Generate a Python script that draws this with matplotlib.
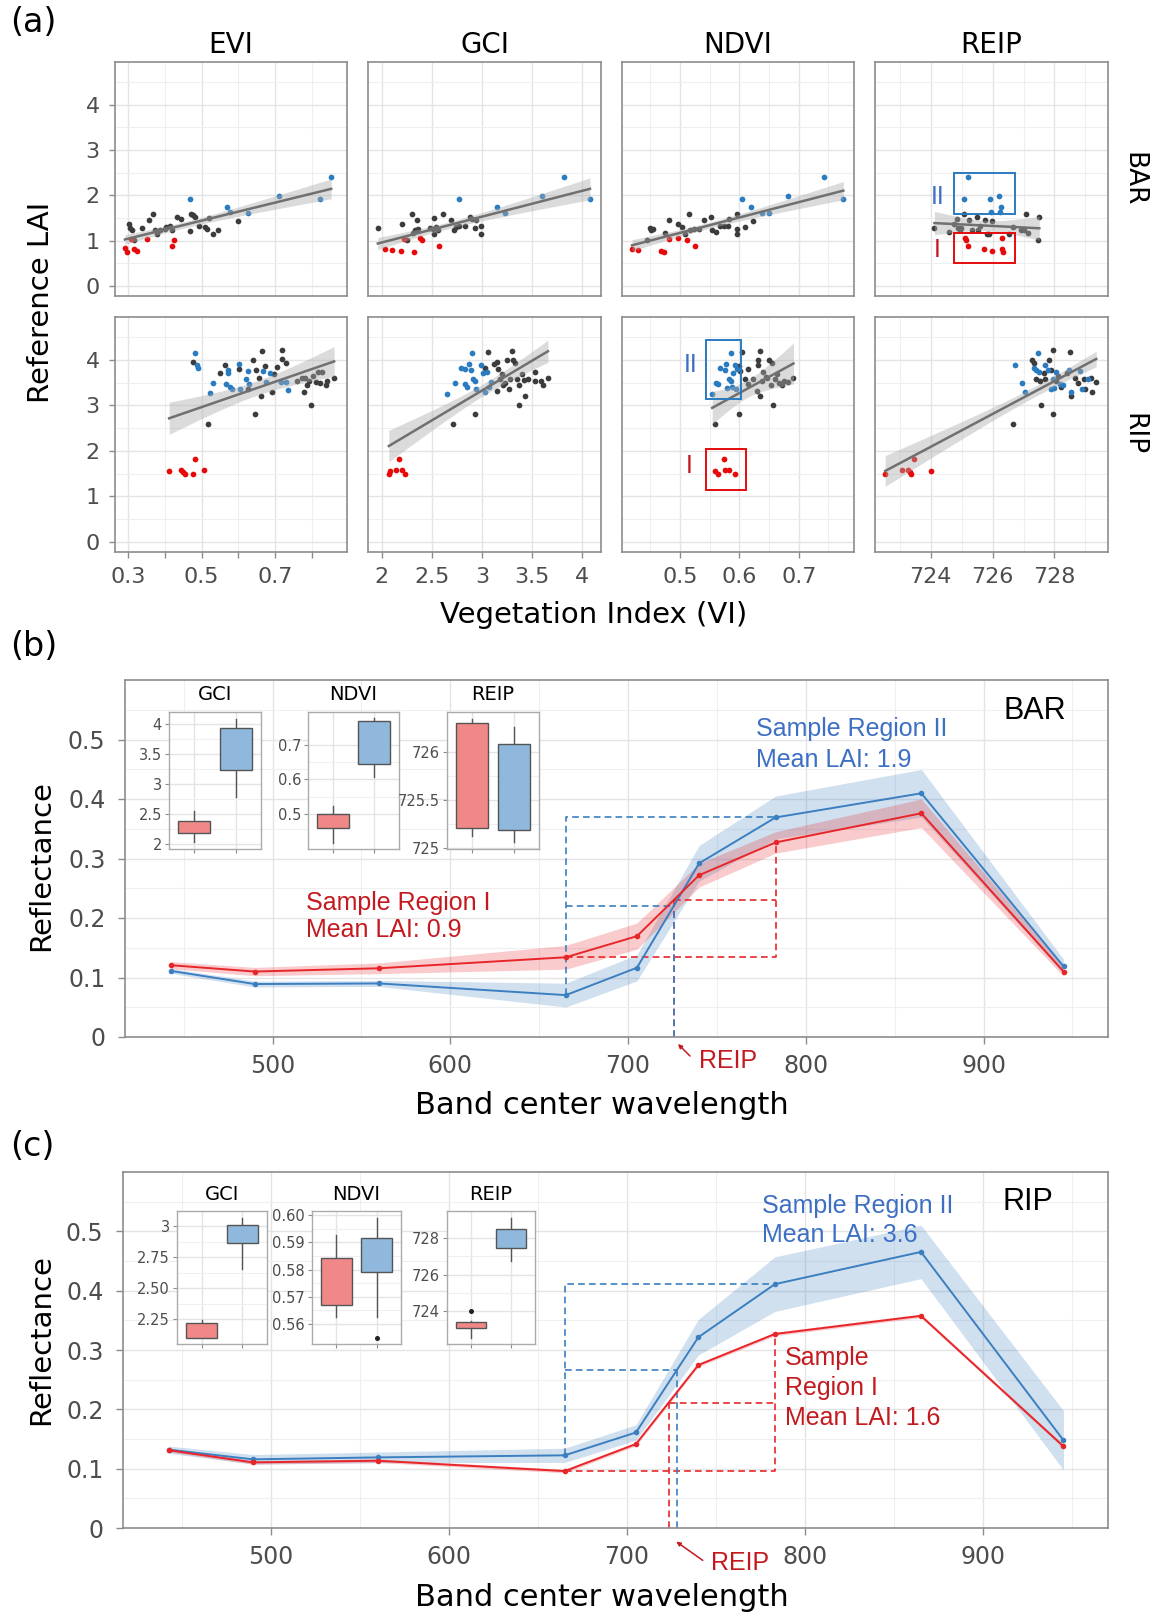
import numpy as np
import matplotlib
matplotlib.use("Agg")
import matplotlib.pyplot as plt
from matplotlib.patches import Rectangle

plt.rcParams['font.family'] = ['DejaVu Sans']

# ======================= DATA : panel (a) =======================
INDICES = ["EVI", "GCI", "NDVI", "REIP"]
SITES = ["BAR", "RIP"]

BAR_EVI_GRAY = [(0.304, 1.36), (0.306, 1.27), (0.310, 1.24), (0.317, 1.01), (0.339, 1.27), (0.357, 1.45),
                (0.369, 1.59), (0.373, 1.23), (0.378, 1.15), (0.387, 1.23), (0.400, 1.26), (0.404, 1.30),
                (0.415, 1.32), (0.420, 1.24), (0.433, 1.53), (0.444, 1.47), (0.468, 1.21), (0.471, 1.59),
                (0.476, 1.56), (0.483, 1.53), (0.492, 1.33), (0.510, 1.31), (0.515, 1.26), (0.520, 1.49),
                (0.532, 1.15), (0.544, 1.24), (0.598, 1.43)]
BAR_EVI_RED = [(0.292, 0.84), (0.297, 0.75), (0.309, 1.04), (0.316, 0.82), (0.325, 0.77), (0.352, 1.04),
               (0.419, 0.88), (0.424, 1.01)]
BAR_EVI_BLUE = [(0.469, 1.92), (0.569, 1.75), (0.578, 1.64), (0.626, 1.62), (0.710, 1.99), (0.822, 1.91),
                (0.852, 2.41)]

BAR_GCI_GRAY = [(1.96, 1.29), (2.20, 1.36), (2.25, 1.01), (2.30, 1.59), (2.31, 1.18), (2.33, 1.23),
                (2.35, 1.45), (2.36, 1.26), (2.48, 1.27), (2.51, 1.26), (2.52, 1.51), (2.52, 1.15),
                (2.54, 1.30), (2.56, 1.23), (2.61, 1.58), (2.69, 1.45), (2.72, 1.23), (2.74, 1.30),
                (2.77, 1.33), (2.83, 1.33), (2.88, 1.52), (2.90, 1.48), (2.93, 1.27), (2.94, 1.45),
                (2.99, 1.32), (2.99, 1.15)]
BAR_GCI_RED = [(2.03, 0.82), (2.10, 0.80), (2.19, 0.77), (2.22, 1.04), (2.32, 0.75), (2.38, 1.05),
               (2.40, 1.01), (2.57, 0.88)]
BAR_GCI_BLUE = [(2.77, 1.92), (3.15, 1.75), (3.23, 1.62), (3.60, 1.99), (3.82, 2.41), (4.08, 1.91)]

BAR_NDVI_GRAY = [(0.444, 1.01), (0.449, 1.29), (0.451, 1.23), (0.454, 1.26), (0.474, 1.18), (0.482, 1.45),
                 (0.496, 1.36), (0.503, 1.30), (0.509, 1.15), (0.515, 1.59), (0.517, 1.23), (0.524, 1.26),
                 (0.531, 1.26), (0.541, 1.46), (0.552, 1.52), (0.554, 1.23), (0.560, 1.20), (0.567, 1.32),
                 (0.574, 1.32), (0.580, 1.32), (0.583, 1.48), (0.595, 1.58), (0.595, 1.26), (0.595, 1.15),
                 (0.610, 1.30), (0.623, 1.43)]
BAR_NDVI_RED = [(0.419, 0.82), (0.429, 0.80), (0.467, 0.77), (0.472, 0.75), (0.482, 1.04), (0.496, 1.05),
                (0.511, 1.01), (0.525, 0.88)]
BAR_NDVI_BLUE = [(0.604, 1.92), (0.620, 1.75), (0.638, 1.62), (0.649, 1.62), (0.682, 1.99), (0.743, 2.41),
                 (0.775, 1.91)]

BAR_REIP_GRAY = [(724.12, 1.29), (724.59, 1.20), (724.76, 1.36), (724.84, 1.47), (724.88, 1.27),
                 (724.94, 1.23), (724.98, 1.28), (725.09, 1.58), (725.24, 1.45), (725.35, 1.24),
                 (725.49, 1.52), (725.53, 1.24), (725.59, 1.33), (725.76, 1.45), (725.82, 1.15),
                 (725.88, 1.15), (725.98, 1.43), (726.53, 1.15), (726.65, 1.30), (726.92, 1.24),
                 (727.00, 1.23), (727.09, 1.59), (727.15, 1.18), (727.46, 1.01), (727.51, 1.53)]
BAR_REIP_RED = [(725.11, 1.05), (725.14, 1.01), (725.22, 0.88), (725.71, 0.81), (725.98, 0.77),
                (726.29, 0.82), (726.35, 0.75), (726.32, 1.05)]
BAR_REIP_BLUE = [(725.20, 2.41), (725.08, 1.91), (725.92, 1.91), (726.21, 1.98), (726.26, 1.75),
                 (725.94, 1.64), (726.24, 1.64)]

RIP_EVI_GRAY = [(0.476, 3.96), (0.517, 2.59), (0.551, 3.71), (0.564, 3.88), (0.601, 3.79), (0.626, 3.35),
                (0.641, 3.99), (0.646, 2.80), (0.648, 3.77), (0.655, 3.59), (0.661, 3.20), (0.663, 4.19),
                (0.672, 3.86), (0.690, 3.30), (0.698, 3.68), (0.706, 3.85), (0.718, 4.21), (0.718, 4.01),
                (0.728, 3.93), (0.758, 3.54), (0.772, 3.60), (0.779, 3.29), (0.782, 3.61), (0.787, 3.44),
                (0.792, 3.54), (0.796, 3.00), (0.804, 3.64), (0.810, 3.51), (0.815, 3.73), (0.822, 3.50),
                (0.828, 3.73), (0.837, 3.44), (0.840, 3.53), (0.860, 3.59)]
RIP_EVI_RED = [(0.412, 1.55), (0.444, 1.57), (0.451, 1.53), (0.456, 1.50), (0.476, 1.50), (0.481, 1.82),
               (0.508, 1.59)]
RIP_EVI_BLUE = [(0.483, 4.15), (0.488, 3.88), (0.490, 3.82), (0.523, 3.27), (0.530, 3.48), (0.567, 3.46),
                (0.571, 3.77), (0.573, 3.71), (0.576, 3.41), (0.583, 3.36), (0.603, 3.90), (0.605, 3.36),
                (0.621, 3.57), (0.627, 3.76), (0.628, 3.46), (0.666, 3.76), (0.675, 3.52), (0.685, 3.71),
                (0.715, 3.52), (0.729, 3.52), (0.736, 3.33)]

RIP_GCI_GRAY = [(2.71, 2.59), (2.93, 2.80), (3.03, 3.82), (3.06, 4.17), (3.12, 3.90), (3.15, 3.31),
                (3.15, 3.96), (3.16, 3.79), (3.18, 3.57), (3.20, 3.68), (3.21, 3.45), (3.23, 3.49),
                (3.25, 3.99), (3.27, 3.35), (3.28, 3.57), (3.30, 4.19), (3.31, 3.99), (3.33, 3.93),
                (3.35, 3.57), (3.37, 3.00), (3.37, 3.44), (3.40, 3.68), (3.42, 3.55), (3.43, 3.20),
                (3.46, 3.57), (3.53, 3.73), (3.53, 3.53), (3.59, 3.53), (3.61, 3.44), (3.66, 3.59)]
RIP_GCI_RED = [(2.07, 1.50), (2.08, 1.55), (2.14, 1.57), (2.17, 1.82), (2.20, 1.58), (2.23, 1.50)]
RIP_GCI_BLUE = [(2.65, 3.25), (2.73, 3.48), (2.79, 3.82), (2.83, 3.80), (2.83, 3.46), (2.85, 3.40),
                (2.87, 3.90), (2.89, 3.77), (2.90, 4.15), (2.91, 3.57), (2.93, 3.53), (2.94, 3.36),
                (2.99, 3.88), (3.01, 3.71), (3.03, 3.29), (3.05, 3.73), (3.07, 3.41), (3.09, 3.51)]

RIP_NDVI_GRAY = [(0.558, 2.59), (0.599, 2.80), (0.605, 4.17), (0.599, 3.87), (0.601, 3.76), (0.610, 3.57),
                 (0.615, 3.79), (0.615, 3.46), (0.623, 3.57), (0.629, 3.32), (0.631, 4.00), (0.632, 3.88),
                 (0.635, 4.20), (0.635, 3.21), (0.638, 3.54), (0.640, 3.73), (0.644, 3.63), (0.647, 3.59),
                 (0.650, 4.00), (0.653, 3.44), (0.655, 3.94), (0.656, 3.00), (0.660, 3.57), (0.663, 3.68),
                 (0.666, 3.50), (0.672, 3.44), (0.675, 3.53), (0.681, 3.51), (0.691, 3.59)]
RIP_NDVI_RED = [(0.558, 1.55), (0.564, 1.50), (0.574, 1.82), (0.575, 1.57), (0.582, 1.59), (0.592, 1.50)]
RIP_NDVI_BLUE = [(0.554, 3.26), (0.560, 3.50), (0.564, 3.46), (0.567, 3.83), (0.575, 3.78), (0.578, 3.90),
                 (0.579, 3.39), (0.583, 3.57), (0.585, 4.16), (0.586, 3.54), (0.588, 3.41), (0.589, 3.72),
                 (0.592, 3.88), (0.594, 3.35), (0.596, 3.79)]

RIP_REIP_GRAY = [(726.65, 2.59), (727.29, 4.00), (727.35, 3.94), (727.41, 3.57), (727.53, 3.53),
                 (727.56, 3.00), (727.65, 3.72), (727.71, 3.57), (727.82, 4.00), (727.88, 3.78),
                 (727.94, 4.21), (727.94, 2.80), (728.06, 3.53), (728.12, 3.64), (728.20, 3.41),
                 (728.41, 3.70), (728.49, 4.17), (728.55, 3.21), (728.65, 3.61), (728.76, 3.50),
                 (728.94, 3.57), (729.00, 3.36), (729.18, 3.59), (729.21, 3.29), (729.35, 3.51)]
RIP_REIP_RED = [(722.53, 1.50), (723.07, 1.57), (723.27, 1.59), (723.32, 1.54), (723.35, 1.50),
                (723.45, 1.82), (724.00, 1.55)]
RIP_REIP_BLUE = [(726.71, 3.88), (726.94, 3.48), (727.06, 3.29), (727.35, 3.83), (727.41, 3.78),
                 (727.47, 4.16), (727.49, 3.73), (727.71, 3.88), (727.78, 3.78), (727.88, 3.35),
                 (727.94, 3.57), (728.00, 3.39), (728.06, 3.73), (728.18, 3.46), (728.29, 3.44),
                 (728.47, 3.78), (728.53, 3.29), (728.82, 3.76), (728.88, 3.36), (729.09, 3.57)]

# ======================= DATA : panels (b), (c) =======================
WAVELENGTH = np.array([443, 490, 560, 665, 705, 740, 783, 865, 945])

BAR_RED_MEAN = np.array([0.1206, 0.110, 0.1155, 0.134, 0.1695, 0.272, 0.327, 0.376, 0.110])
BAR_RED_SD = np.array([0.006, 0.007, 0.009, 0.020, 0.022, 0.020, 0.018, 0.024, 0.008])
BAR_BLUE_MEAN = np.array([0.111, 0.089, 0.090, 0.0704, 0.1164, 0.292, 0.369, 0.4096, 0.1186])
BAR_BLUE_SD = np.array([0.004, 0.005, 0.005, 0.020, 0.022, 0.030, 0.036, 0.040, 0.012])

RIP_RED_MEAN = np.array([0.1309, 0.1106, 0.1134, 0.0959, 0.1416, 0.2747, 0.327, 0.3576, 0.1376])
RIP_RED_SD = np.array([0.003, 0.003, 0.003, 0.003, 0.003, 0.003, 0.003, 0.003, 0.003])
RIP_BLUE_MEAN = np.array([0.132, 0.1157, 0.119, 0.1225, 0.161, 0.3215, 0.411, 0.4653, 0.1478])
RIP_BLUE_SD = np.array([0.006, 0.008, 0.009, 0.012, 0.013, 0.030, 0.046, 0.045, 0.050])

# box-plot summaries (whislo, q1, med, q3, whishi), Region I then Region II
BAR_BOX_GCI = [(2.03, 2.18, 2.28, 2.39, 2.56), (2.79, 3.24, 3.76, 3.93, 4.09)]
BAR_BOX_NDVI = [(0.418, 0.459, 0.479, 0.500, 0.525), (0.607, 0.644, 0.734, 0.768, 0.776)]
BAR_BOX_REIP = [(725.13, 725.21, 725.85, 726.31, 726.35), (725.06, 725.19, 725.55, 726.09, 726.26)]
RIP_BOX_GCI = [(2.10, 2.10, 2.163, 2.222, 2.243), (2.656, 2.867, 2.912, 3.011, 3.066)]
RIP_BOX_NDVI = [(0.5627, 0.5670, 0.5772, 0.5843, 0.5928), (0.5627, 0.5790, 0.5872, 0.5916, 0.5991)]
RIP_BOX_REIP = [(722.54, 723.09, 723.27, 723.42, 723.45), (726.77, 727.49, 728.07, 728.51, 729.13)]
RIP_OUT_NDVI = [[], [0.5548]]
RIP_OUT_REIP = [[724.0], []]

# ======================= STYLE =======================
W, H = 1150, 1616
GRAY_PT = '#3c3c3c'
RED_PT = '#e60a0a'
BLUE_PT = '#2a7bc0'
BORDER = '#8c8c8c'
GRID = '#e4e4e4'
TICKLBL = '#4d4d4d'
RED_LINE = '#e8262a'
BLUE_LINE = '#3b7fc0'
RED_TXT = '#c41a1f'
BLUE_TXT = '#3d6fc4'
ARIAL = 'Liberation Sans'

fig = plt.figure(figsize=(W / 100, H / 100), dpi=100)


def add_ax(x0, y0, x1, y1):
    return fig.add_axes([x0 / W, 1 - y1 / H, (x1 - x0) / W, (y1 - y0) / H])


def ftext(x, y, s, **kw):
    fig.text(x / W, 1 - y / H, s, **kw)


def style(ax, border=BORDER, lw=1.2):
    ax.set_facecolor('white')
    for sp in ax.spines.values():
        sp.set_color(border)
        sp.set_linewidth(lw)
        sp.set_zorder(10)
    ax.set_axisbelow(True)
    ax.grid(True, which='major', color=GRID, lw=1.0)
    ax.grid(True, which='minor', color='#efefef', lw=0.8)


def fit_band(x, y, n=100):
    x = np.asarray(x, float)
    y = np.asarray(y, float)
    b1, b0 = np.polyfit(x, y, 1)
    xs = np.linspace(x.min(), x.max(), n)
    yh = b0 + b1 * xs
    res = y - (b0 + b1 * x)
    s = np.sqrt((res ** 2).sum() / (len(x) - 2))
    sxx = ((x - x.mean()) ** 2).sum()
    se = s * np.sqrt(1 / len(x) + (xs - x.mean()) ** 2 / sxx)
    return xs, yh, yh - 2.0 * se, yh + 2.0 * se


# ======================= PANEL (a) =======================
DATA_A = {
    ("BAR", "EVI"): (BAR_EVI_GRAY, BAR_EVI_RED, BAR_EVI_BLUE),
    ("BAR", "GCI"): (BAR_GCI_GRAY, BAR_GCI_RED, BAR_GCI_BLUE),
    ("BAR", "NDVI"): (BAR_NDVI_GRAY, BAR_NDVI_RED, BAR_NDVI_BLUE),
    ("BAR", "REIP"): (BAR_REIP_GRAY, BAR_REIP_RED, BAR_REIP_BLUE),
    ("RIP", "EVI"): (RIP_EVI_GRAY, RIP_EVI_RED, RIP_EVI_BLUE),
    ("RIP", "GCI"): (RIP_GCI_GRAY, RIP_GCI_RED, RIP_GCI_BLUE),
    ("RIP", "NDVI"): (RIP_NDVI_GRAY, RIP_NDVI_RED, RIP_NDVI_BLUE),
    ("RIP", "REIP"): (RIP_REIP_GRAY, RIP_REIP_RED, RIP_REIP_BLUE),
}
XLIM = {"EVI": (0.265, 0.895), "GCI": (1.862, 4.19), "NDVI": (0.402, 0.793), "REIP": (722.2, 729.73)}
XMAJ = {"EVI": [0.3, 0.5, 0.7], "GCI": [2, 2.5, 3, 3.5, 4], "NDVI": [0.5, 0.6, 0.7], "REIP": [724, 726, 728]}
XMIN = {"EVI": [0.4, 0.6, 0.8], "GCI": [], "NDVI": [0.45, 0.55, 0.65, 0.75], "REIP": [723, 725, 727, 729]}
XLBL = {"EVI": ["0.3", "0.5", "0.7"], "GCI": ["2", "2.5", "3", "3.5", "4"], "NDVI": ["0.5", "0.6", "0.7"],
        "REIP": ["724", "726", "728"]}

col_x = [(115, 347), (368, 601), (622, 854), (875, 1108)]
row_y = [(62, 296), (317, 552)]
axes_a = {}
for r, site in enumerate(SITES):
    for c, idx in enumerate(INDICES):
        ax = add_ax(col_x[c][0], row_y[r][0], col_x[c][1], row_y[r][1])
        axes_a[(site, idx)] = ax
        style(ax)
        gray, red, blue = [np.array(p) for p in DATA_A[(site, idx)]]
        allp = np.vstack([gray, red, blue])
        ax.scatter(gray[:, 0], gray[:, 1], s=17, color=GRAY_PT, lw=0, zorder=3)
        ax.scatter(red[:, 0], red[:, 1], s=17, color=RED_PT, lw=0, zorder=3)
        ax.scatter(blue[:, 0], blue[:, 1], s=17, color=BLUE_PT, lw=0, zorder=3)
        xs, yh, lo, hi = fit_band(allp[:, 0], allp[:, 1])
        ax.fill_between(xs, lo, hi, color='#ababab', alpha=0.42, lw=0, zorder=4)
        ax.plot(xs, yh, color='#707070', lw=1.8, zorder=5)
        ax.set_xlim(*XLIM[idx])
        ax.set_ylim(-0.22, 4.94)
        ax.set_xticks(XMAJ[idx])
        ax.set_xticks(XMIN[idx], minor=True)
        ax.set_yticks([0, 1, 2, 3, 4])
        ax.set_yticks([0.5, 1.5, 2.5, 3.5, 4.5], minor=True)
        ax.tick_params(which='both', color=BORDER, width=1.0, length=4, labelsize=16, labelcolor=TICKLBL,
                       pad=7)
        ax.tick_params(axis='y', which='minor', length=0)
        if idx != "EVI":
            ax.tick_params(axis='x', which='minor', length=0)
        if r == 1:
            ax.set_xticklabels(XLBL[idx])
        else:
            ax.tick_params(axis='x', which='both', length=0, labelbottom=False)
        if c == 0:
            ax.set_yticklabels(["0", "1", "2", "3", "4"])
        else:
            ax.tick_params(axis='y', which='both', length=0, labelleft=False)

# facet titles / strips
for c, idx in enumerate(INDICES):
    ftext((col_x[c][0] + col_x[c][1]) / 2, 45, idx, ha='center', va='center', fontsize=20)
for r, site in enumerate(SITES):
    ftext(1133, (row_y[r][0] + row_y[r][1]) / 2, site, ha='center', va='center', fontsize=19, rotation=270)

# region boxes (annotations)
ax = axes_a[("BAR", "REIP")]
ax.add_patch(Rectangle((724.74, 1.58), 726.71 - 724.74, 2.50 - 1.58, fill=False, ec=BLUE_PT, lw=1.4, zorder=6))
ax.add_patch(Rectangle((724.74, 0.51), 726.71 - 724.74, 1.17 - 0.51, fill=False, ec=RED_PT, lw=1.4, zorder=6))
ax.text(724.24, 1.96, "II", color=BLUE_TXT, fontsize=18, ha='center', va='center', family=ARIAL)
ax.text(724.2, 0.79, "I", color=RED_TXT, fontsize=18, ha='center', va='center', family=ARIAL)
ax = axes_a[("RIP", "NDVI")]
ax.add_patch(Rectangle((0.544, 3.13), 0.603 - 0.544, 4.43 - 3.13, fill=False, ec=BLUE_PT, lw=1.4, zorder=6))
ax.add_patch(Rectangle((0.544, 1.14), 0.611 - 0.544, 2.05 - 1.14, fill=False, ec=RED_PT, lw=1.4, zorder=6))
ax.text(0.518, 3.88, "II", color=BLUE_TXT, fontsize=18, ha='center', va='center', family=ARIAL)
ax.text(0.515, 1.66, "I", color=RED_TXT, fontsize=18, ha='center', va='center', family=ARIAL)

ftext(10, 23, "(a)", ha='left', va='center', fontsize=24)
ftext(41, 302, "Reference LAI", ha='center', va='center', rotation=90, fontsize=21)
ftext(594, 615, "Vegetation Index (VI)", ha='center', va='center', fontsize=21)


# ======================= PANELS (b), (c) =======================
def reip_lines(ax, m, color, kind):
    i665, i705, i740, i783 = [int(np.where(WAVELENGTH == w)[0][0]) for w in (665, 705, 740, 783)]
    w665, w783 = WAVELENGTH[i665], WAVELENGTH[i783]
    r665, r783 = m[i665], m[i783]
    half = (r665 + r783) / 2
    reip = np.interp(half, [m[i705], m[i740]], [WAVELENGTH[i705], WAVELENGTH[i740]])
    kw = dict(color=color, lw=1.2, ls=(0, (4, 2.5)), zorder=4)
    if kind == 'I':
        ax.plot([w665, w783, w783], [r665, r665, r783], **kw)
        ax.plot([reip, w783], [half, half], **kw)
    else:
        ax.plot([w665, w665, w783], [r665, r783, r783], **kw)
        ax.plot([w665, reip], [half, half], **kw)
    ax.plot([reip, reip], [0, half], **kw)


def spectral(ax, rm, rs, bm, bs):
    style(ax)
    ax.fill_between(WAVELENGTH, bm - bs, bm + bs, color=BLUE_LINE, alpha=0.24, lw=0, zorder=2)
    ax.fill_between(WAVELENGTH, rm - rs, rm + rs, color=RED_LINE, alpha=0.24, lw=0, zorder=2)
    reip_lines(ax, rm, RED_LINE, 'I')
    reip_lines(ax, bm, BLUE_LINE, 'II')
    ax.plot(WAVELENGTH, bm, color=BLUE_LINE, lw=1.4, marker='o', ms=3, zorder=5)
    ax.plot(WAVELENGTH, rm, color=RED_LINE, lw=1.4, marker='o', ms=3, zorder=5)
    ax.set_xlim(417, 970)
    ax.set_ylim(0, 0.6)
    ax.set_xticks([500, 600, 700, 800, 900])
    ax.set_xticks([450, 550, 650, 750, 850, 950], minor=True)
    ax.set_yticks([0, 0.1, 0.2, 0.3, 0.4, 0.5])
    ax.set_yticklabels(["0", "0.1", "0.2", "0.3", "0.4", "0.5"])
    ax.set_yticks([0.05, 0.15, 0.25, 0.35, 0.45, 0.55], minor=True)
    ax.tick_params(which='major', color=BORDER, width=1.0, length=5, labelsize=17, labelcolor=TICKLBL)
    ax.tick_params(axis='x', pad=7)
    ax.tick_params(axis='y', pad=9)
    ax.tick_params(which='minor', length=0)


def inset(x0, y0, x1, y1, title, stats, ylim, yticks, ylabels, outliers=None):
    ax = add_ax(x0, y0, x1, y1)
    style(ax, border='#ababab', lw=1.0)
    st = []
    for k, (wl, q1, md, q3, wh) in enumerate(stats):
        st.append(dict(whislo=wl, q1=q1, med=md, q3=q3, whishi=wh,
                       fliers=(outliers[k] if outliers else [])))
    bp = ax.bxp(st, positions=[1, 2], widths=0.76, patch_artist=True, showcaps=False,
                boxprops=dict(edgecolor='#555555', linewidth=1.0),
                medianprops=dict(color='#333333', linewidth=1.6),
                whiskerprops=dict(color='#555555', linewidth=1.0),
                flierprops=dict(marker='o', markersize=2.6, markerfacecolor='#222222',
                                markeredgecolor='#222222'))
    for patch, col in zip(bp['boxes'], ['#f08888', '#8fb8dc']):
        patch.set_facecolor(col)
        patch.set_zorder(3)
    ax.set_xlim(0.4, 2.6)
    ax.set_ylim(*ylim)
    ax.set_xticks([1, 2])
    ax.set_xticklabels([])
    ax.set_yticks(yticks)
    ax.set_yticklabels(ylabels)
    mids = [(a + b) / 2 for a, b in zip(yticks[:-1], yticks[1:])]
    ax.set_yticks(mids, minor=True)
    ax.tick_params(which='major', color='#8c8c8c', width=0.8, length=3, labelsize=10.5, labelcolor=TICKLBL,
                   pad=2)
    ax.tick_params(which='minor', length=0)
    ftext((x0 + x1) / 2, y0 - 17, title, ha='center', va='center', fontsize=14)
    return ax


# ---- panel (b)
axb = add_ax(125, 680, 1108, 1037)
spectral(axb, BAR_RED_MEAN, BAR_RED_SD, BAR_BLUE_MEAN, BAR_BLUE_SD)
for t, y in (("Sample Region I", 0.226), ("Mean LAI: 0.9", 0.179)):
    axb.text(519, y, t, color=RED_TXT, fontsize=18, family=ARIAL, ha='left', va='center', zorder=8)
for t, y in (("Sample Region II", 0.517), ("Mean LAI: 1.9", 0.466)):
    axb.text(772, y, t, color=BLUE_TXT, fontsize=18, family=ARIAL, ha='left', va='center', zorder=8)
ftext(1035, 711, "BAR", ha='center', va='center', fontsize=22, family=ARIAL)
ftext(699, 1061, "REIP", ha='left', va='center', fontsize=18, family=ARIAL, color=RED_TXT)
fig.add_artist(matplotlib.patches.FancyArrowPatch((692 / W, 1 - 1058 / H), (676 / W, 1 - 1042 / H),
                                                  transform=fig.transFigure, arrowstyle='-|>',
                                                  mutation_scale=6, color=RED_TXT, lw=1.1))
ftext(10, 646, "(b)", ha='left', va='center', fontsize=24)
ftext(41, 866, "Reflectance", ha='center', va='center', rotation=90, fontsize=21)
ftext(602, 1105, "Band center wavelength", ha='center', va='center', fontsize=22)

inset(169, 712, 261, 849, "GCI", BAR_BOX_GCI, (1.92, 4.2), [2, 2.5, 3, 3.5, 4], ["2", "2.5", "3", "3.5", "4"])
inset(308, 712, 399, 849, "NDVI", BAR_BOX_NDVI, (0.40, 0.794), [0.5, 0.6, 0.7], ["0.5", "0.6", "0.7"])
inset(447, 712, 539, 849, "REIP", BAR_BOX_REIP, (724.99, 726.42), [725, 725.5, 726], ["725", "725.5", "726"])

# ---- panel (c)
axc = add_ax(123, 1172, 1108, 1528)
spectral(axc, RIP_RED_MEAN, RIP_RED_SD, RIP_BLUE_MEAN, RIP_BLUE_SD)
for t, y in (("Sample Region II", 0.5435), ("Mean LAI: 3.6", 0.493)):
    axc.text(775.6, y, t, color=BLUE_TXT, fontsize=18, family=ARIAL, ha='left', va='center', zorder=8)
for t, y in (("Sample", 0.2867), ("Region I", 0.236), ("Mean LAI: 1.6", 0.1855)):
    axc.text(788.5, y, t, color=RED_TXT, fontsize=18, family=ARIAL, ha='left', va='center', zorder=8)
ftext(1028, 1202, "RIP", ha='center', va='center', fontsize=22, family=ARIAL)
ftext(711, 1563, "REIP", ha='left', va='center', fontsize=18, family=ARIAL, color=RED_TXT)
fig.add_artist(matplotlib.patches.FancyArrowPatch((705 / W, 1 - 1562 / H), (674 / W, 1 - 1540 / H),
                                                  transform=fig.transFigure, arrowstyle='-|>',
                                                  mutation_scale=6, color=RED_TXT, lw=1.1))
ftext(10, 1146, "(c)", ha='left', va='center', fontsize=24)
ftext(41, 1340, "Reflectance", ha='center', va='center', rotation=90, fontsize=21)
ftext(602, 1597, "Band center wavelength", ha='center', va='center', fontsize=22)

inset(177, 1211, 267, 1344, "GCI", RIP_BOX_GCI, (2.05, 3.123), [2.25, 2.5, 2.75, 3],
      ["2.25", "2.50", "2.75", "3"])
inset(312, 1211, 401, 1344, "NDVI", RIP_BOX_NDVI, (0.5527, 0.6015), [0.56, 0.57, 0.58, 0.59, 0.60],
      ["0.56", "0.57", "0.58", "0.59", "0.60"], outliers=RIP_OUT_NDVI)
inset(447, 1211, 535, 1344, "REIP", RIP_BOX_REIP, (722.19, 729.5), [724, 726, 728], ["724", "726", "728"],
      outliers=RIP_OUT_REIP)

fig.savefig("out.png", dpi=100)
